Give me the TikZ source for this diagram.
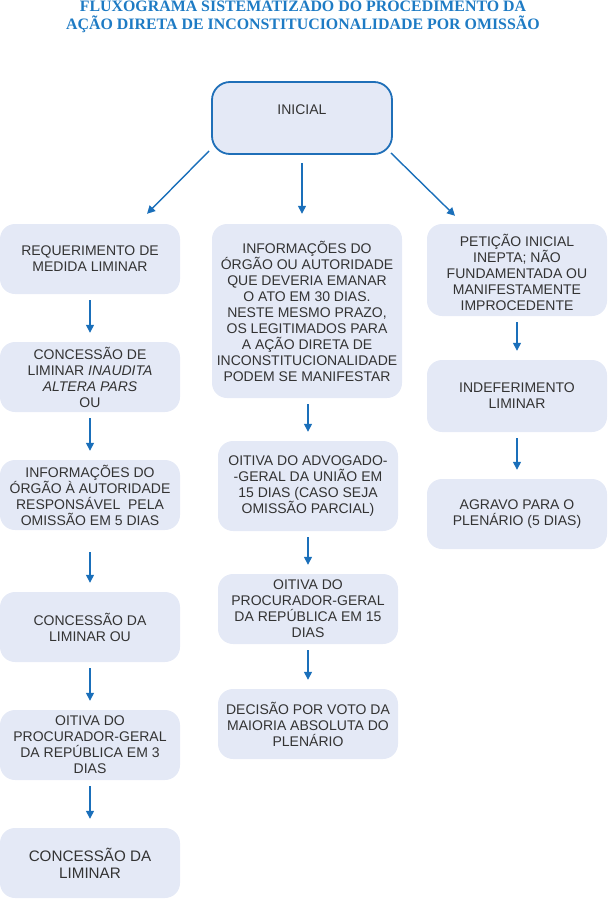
\documentclass[tikz,border=0pt]{standalone}
\usepackage{fontspec}
\setmainfont{Liberation Sans}
\newfontfamily\titlefont{Liberation Serif}
\usetikzlibrary{arrows.meta}
\definecolor{boxfill}{HTML}{E4E9F6}
\definecolor{boxline}{HTML}{1F6FB8}
\definecolor{arrowblue}{HTML}{1A6FBA}
\definecolor{titleblue}{HTML}{1E7BC4}
\definecolor{textgray}{HTML}{333333}
\begin{document}
\begin{tikzpicture}[x=1pt,y=1pt,
    caixa/.style={rectangle, rounded corners=15pt, fill=boxfill, draw=none,
      minimum width=180pt, minimum height=70pt, inner sep=2pt, align=center,
      text=textgray, font=\fontsize{14}{16}\selectfont},
    seta/.style={arrowblue, line width=1.4pt, -{Triangle[length=8pt,width=8pt]}}]
    \useasboundingbox (0,0) rectangle (608,-900);
    % titulo
    \node[anchor=north, inner sep=0pt, align=center, text=titleblue,
      font=\titlefont\bfseries\fontsize{15.9}{18}\selectfont] (titulo) at (303,-0.6)
      {FLUXOGRAMA SISTEMATIZADO DO PROCEDIMENTO DA\\AÇÃO DIRETA DE INCONSTITUCIONALIDADE POR OMISSÃO};
    % caixa inicial
    \node[caixa, draw=boxline, line width=1.8pt, rounded corners=18pt, minimum height=72pt] (ini) at (302,-118) {INICIAL\\\mbox{}};
    % coluna da esquerda
    \node[caixa] (req) at (90,-259) {REQUERIMENTO DE\\MEDIDA LIMINAR};
    \node[caixa] (con1) at (90,-377) {CONCESSÃO DE\\LIMINAR \textit{INAUDITA}\\\textit{ALTERA PARS}\\OU};
    \node[caixa] (inf1) at (90,-495) {INFORMAÇÕES DO\\ÓRGÃO À AUTORIDADE\\RESPONSÁVEL\ \ PELA\\OMISSÃO EM 5 DIAS};
    \node[caixa] (con2) at (90,-627) {CONCESSÃO DA\\LIMINAR OU};
    \node[caixa] (oit1) at (90,-745) {OITIVA DO\\PROCURADOR-GERAL\\DA REPÚBLICA EM 3\\DIAS};
    \node[caixa, font=\fontsize{15.2}{17}\selectfont] (con3) at (90,-863) {CONCESSÃO DA\\LIMINAR};
    % coluna do meio
    \node[caixa, minimum width=190pt, minimum height=174pt] (inf2) at (307,-311)
      {INFORMAÇÕES DO\\ÓRGÃO OU AUTORIDADE\\QUE DEVERIA EMANAR\\O ATO EM 30 DIAS.\\NESTE MESMO PRAZO,\\OS LEGITIMADOS PARA\\A AÇÃO DIRETA DE\\INCONSTITUCIONALIDADE\\PODEM SE MANIFESTAR};
    \node[caixa, minimum height=90pt] (agu) at (308,-486) {OITIVA DO ADVOGADO-\\-GERAL DA UNIÃO EM\\15 DIAS (CASO SEJA\\OMISSÃO PARCIAL)};
    \node[caixa] (pgr) at (308,-609) {OITIVA DO\\PROCURADOR-GERAL\\DA REPÚBLICA EM 15\\DIAS};
    \node[caixa] (dec) at (308,-724) {DECISÃO POR VOTO DA\\MAIORIA ABSOLUTA DO\\PLENÁRIO};
    % coluna da direita
    \node[caixa, minimum height=92pt] (pet) at (517,-270) {\mbox{}\\[2pt]PETIÇÃO INICIAL\\INEPTA; NÃO\\FUNDAMENTADA OU\\MANIFESTAMENTE\\IMPROCEDENTE};
    \node[caixa, minimum height=72pt] (ind) at (517,-396) {INDEFERIMENTO\\LIMINAR};
    \node[caixa] (agr) at (517,-514) {AGRAVO PARA O\\PLENÁRIO (5 DIAS)};
    % setas a partir da inicial
    \draw[seta] ([xshift=-2pt,yshift=4pt]ini.south west) -- ([xshift=57pt,yshift=10pt]req.north);
    \draw[seta] ([yshift=-8pt]ini.south) -- ([yshift=10pt]ini.south |- inf2.north);
    \draw[seta] ([xshift=-2pt,yshift=2pt]ini.south east) -- ([xshift=-62pt,yshift=8pt]pet.north);
    % setas verticais
    \foreach \a/\b/\s in {req/con1/0, con1/inf1/0, inf1/con2/16, con2/oit1/0, oit1/con3/0,
      inf2/agu/0, agu/pgr/0, pgr/dec/0, pet/ind/0, ind/agr/0}
      \draw[seta, shorten <=\s pt] ([yshift=-6pt]\b.north |- \a.south) -- ([yshift=9pt]\b.north);
\end{tikzpicture}
\end{document}
